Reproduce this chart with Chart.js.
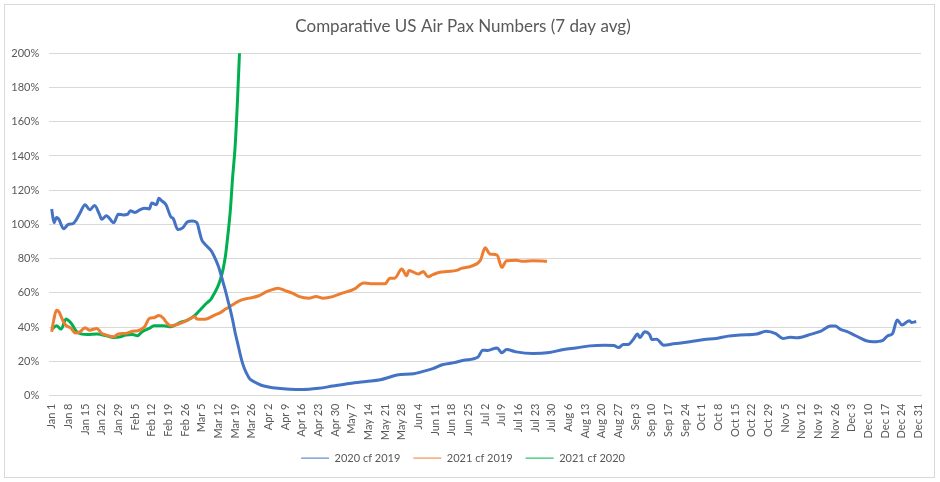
<!DOCTYPE html>
<html>
<head>
<meta charset="utf-8">
<script src="https://cdn.jsdelivr.net/npm/chart.js@4/dist/chart.umd.min.js"></script>
<style>
  html, body { margin: 0; padding: 0; background: #fff; }
  #frame { position: absolute; left: 4px; top: 4px; width: 929px; height: 472px; border: 1px solid #d9d9d9; }
  #wrap { position: absolute; left: 0; top: 0; width: 940px; height: 482px; }
</style>
</head>
<body>
<div id="frame"></div>
<div id="wrap"><canvas id="paxChart"></canvas></div>
<script>
// Week tick labels, one every 7 days from Jan 1
var weekLabels = ['Jan 1','Jan 8','Jan 15','Jan 22','Jan 29','Feb 5','Feb 12','Feb 19','Feb 26',
    'Mar 5','Mar 12','Mar 19','Mar 26','Apr 2','Apr 9','Apr 16','Apr 23','Apr 30','May 7','May 14',
    'May 21','May 28','Jun 4','Jun 11','Jun 18','Jun 25','Jul 2','Jul 9','Jul 16','Jul 23','Jul 30',
    'Aug 6','Aug 13','Aug 20','Aug 27','Sep 3','Sep 10','Sep 17','Sep 24','Oct 1','Oct 8','Oct 15',
    'Oct 22','Oct 29','Nov 5','Nov 12','Nov 19','Nov 26','Dec 3','Dec 10','Dec 17','Dec 24','Dec 31'];

// [day of year (0 = Jan 1), percent]
var pax2020vs2019 = [[0,109],[1,101],[2,104],[3,103],[5,97.5],[7,100],[9,100.5],[10,102],[12,107],[14,111.5],
    [16,108.5],[18,111],[20,106],[21,103],[23,105],[24,104],[26,101],[28,106],[30,105.5],[32,106],[33,108],
    [35,107],[37,108.5],[39,109.5],[41,109],[42,112.5],[44,111.5],[45,115.3],[46,114],[48,111.5],[50,104.5],
    [51,103.5],[53,97],[55,98],[57,101.5],[59,102],[61,101],[62,96],[63,91],[64,89],[65,87.5],[67,84.5],
    [68,82],[69,79],[70,75.5],[71,71],[72,66],[73,61],[74,55.5],[75,50],[76,44],[77,37],[78,31],[79,25],
    [80,19.5],[81,15.5],[82,12.5],[83,10],[85,8],[88,6],[91,5],[95,4.2],[100,3.7],[105,3.5],[112,4.2],
    [118,5.5],[125,7],[132,8.2],[138,9.2],[142,10.8],[145,12],[152,12.7],[156,14.1],[160,15.7],[164,18],
    [169,19.2],[173,20.6],[179,22.5],[181,26.5],[183,26.3],[187,27.8],[189,25],[191,26.9],[195,25.5],
    [202,24.5],[209,25.1],[215,26.9],[220,27.8],[226,29],[232,29.4],[236,29.2],[238,28],[240,29.8],
    [242,29.8],[244,32.4],[246,35.9],[247,33.9],[249,37.3],[251,35.7],[252,32.7],[254,32.9],[257,29.4],
    [261,30.2],[268,31.4],[274,32.7],[279,33.3],[284,34.7],[289,35.3],[296,35.9],[300,37.5],[304,36.1],
    [307,33.3],[310,34.1],[313,33.7],[319,35.9],[323,37.6],[327,40.6],[329,40.6],[331,38.8],[334,37.3],
    [337,35.3],[340,33.3],[342,32],[345,31.4],[349,32.2],[351,34.9],[353,36.1],[355,44.1],[357,41.2],
    [360,43.7],[361,42.7],[363,43.3]];

var pax2021vs2019 = [[0,37.3],[1,45],[2,49.8],[3,49],[4,46],[5,43],[6,41],[8,39.5],[10,36.5],[12,37.3],
    [14,39.6],[16,38.2],[19,39.2],[21,36.3],[23,35.3],[26,34.3],[28,36],[31,36.3],[34,37.6],[36,37.8],
    [39,40.2],[41,45],[43,45.5],[45,46.7],[47,45],[48,43],[50,40.8],[52,41.2],[55,42.7],[58,44.7],[60,46.1],
    [61,44.7],[63,44.5],[65,44.7],[68,46.7],[71,48.6],[73,50.5],[76,53],[79,55.5],[83,56.9],[87,58.3],
    [90,60.5],[93,62],[95,62.7],[98,61.3],[101,59.8],[104,57.8],[108,56.9],[111,57.8],[114,56.9],[118,57.8],
    [122,59.8],[127,62.2],[131,65.8],[134,65.3],[140,65.3],[142,68.6],[144,68.6],[147,73.9],[149,70],
    [150,73.1],[154,71],[156,72.4],[158,69.4],[160,70.6],[163,72],[166,72.5],[170,73.1],[172,74.3],
    [176,75.5],[180,79],[182,86.3],[184,82.7],[187,82],[189,74.9],[191,78.8],[195,79],[198,78.4],
    [202,78.8],[208,78.4]];

var pax2021vs2020 = [[0,38.6],[2,40.8],[4,38.8],[6,44.7],[8,42.5],[11,36.7],[15,35.7],[19,35.9],[23,34.9],
    [26,33.9],[29,34.3],[31,35.3],[34,35.7],[36,34.9],[38,37.3],[41,39.2],[43,40.8],[47,40.8],[50,40.2],
    [54,42.7],[57,44.1],[60,46.7],[62,49.5],[65,53.9],[67,56.5],[68,59],[69,61.5],[70,64.5],[71,68.5],
    [72,74],[73,82],[74,94],[75,108],[76,128],[77,145],[78,172],[79,205],[80,245]];

function toPoints(arr) {
    return arr.map(p => ({ x: p[0], y: p[1] }));
}

var grey = '#595959';
Chart.defaults.font.family = 'Lato, "Liberation Sans", sans-serif';
Chart.defaults.color = grey;

var ctx = document.getElementById('paxChart').getContext('2d');
var paxChart = new Chart(ctx, {
    type: 'line',
    data: {
        datasets: [
            { label: '2020 cf 2019', data: toPoints(pax2020vs2019), borderColor: '#4472C4', backgroundColor: '#4472C4' },
            { label: '2021 cf 2019', data: toPoints(pax2021vs2019), borderColor: '#ED7D31', backgroundColor: '#ED7D31' },
            { label: '2021 cf 2020', data: toPoints(pax2021vs2020), borderColor: '#00B050', backgroundColor: '#00B050' }
        ]
    },
    options: {
        responsive: true,
        maintainAspectRatio: false,
        animation: false,
        layout: { padding: { left: 5, right: 19, top: 5, bottom: 8.4 } },
        elements: {
            point: { radius: 0 },
            line: { borderWidth: 3, cubicInterpolationMode: 'monotone' }
        },
        scales: {
            x: {
                type: 'linear',
                min: -1,
                max: 365,
                grid: { display: false, drawTicks: false },
                border: { display: true, color: '#d9d9d9' },
                afterBuildTicks: function(axis) {
                    axis.ticks = weekLabels.map((l, i) => ({ value: i * 7 }));
                },
                afterFit: function(axis) { axis.height = 44.1; },
                ticks: {
                    autoSkip: false,
                    maxRotation: 90,
                    minRotation: 90,
                    padding: 8,
                    font: { size: 11 },
                    callback: function(value) {
                        return weekLabels[Math.round(value / 7)];
                    }
                }
            },
            y: {
                min: 0,
                max: 200,
                grid: { color: '#d9d9d9', drawTicks: false },
                border: { display: false },
                afterFit: function(axis) { axis.width = 44.3; },
                ticks: {
                    stepSize: 20,
                    padding: 10,
                    font: { size: 11 },
                    callback: function(value) { return value + '%'; }
                }
            }
        },
        plugins: {
            title: {
                display: true,
                text: 'Comparative US Air Pax Numbers (7 day avg)',
                font: { size: 17, weight: 'normal' },
                color: grey,
                padding: { top: 11, bottom: 16.9 }
            },
            legend: {
                position: 'bottom',
                labels: {
                    usePointStyle: true,
                    pointStyle: 'line',
                    pointStyleWidth: 28,
                    padding: 13,
                    font: { size: 11 }
                }
            },
            tooltip: { enabled: false }
        }
    }
});
</script>
</body>
</html>
